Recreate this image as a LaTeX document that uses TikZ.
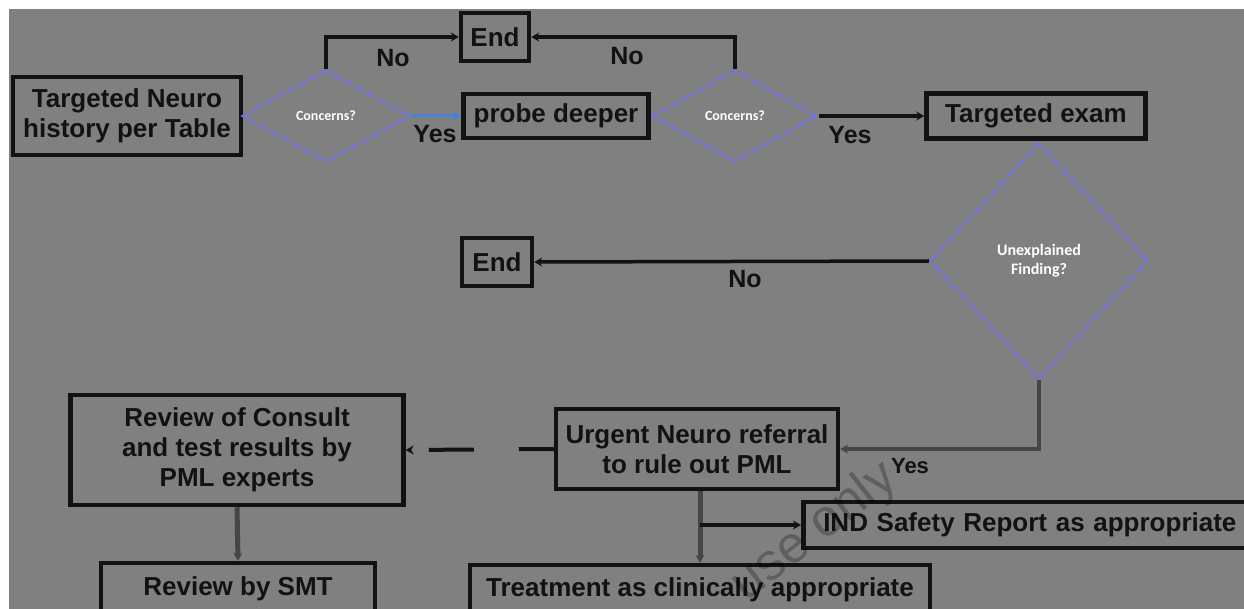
\documentclass[tikz,border=0pt]{standalone}
\usepackage{fontspec}
\setmainfont{Liberation Sans}
\newfontfamily\calfont{Carlito}
\usetikzlibrary{arrows.meta,shapes.geometric}

\definecolor{bggray}{RGB}{128,128,128}
\definecolor{ink}{RGB}{18,18,18}
\definecolor{dline}{RGB}{115,115,225}
\definecolor{yesblue}{RGB}{70,130,220}
\definecolor{stem}{RGB}{70,70,70}

\tikzset{
  box/.style={draw=ink, line width=4.5pt, fill=bggray, text=ink, align=center,
    inner sep=0pt, font=\fontsize{26}{30}\selectfont\bfseries},
  decision/.style={diamond, draw=dline, line width=2.2pt, dash pattern=on 10pt off 3pt,
    fill=bggray, inner sep=0pt, text=white, align=center,
    font=\calfont\bfseries\fontsize{14}{16}\selectfont},
  conn/.style={draw=ink, line width=4pt, -{Stealth[length=8pt,width=9pt]}},
  gconn/.style={conn, draw=stem, line width=5pt},
  lab/.style={text=ink, font=\fontsize{25}{28}\selectfont\bfseries, inner sep=0pt},
}

\begin{document}
\begin{tikzpicture}[x=1pt,y=-1pt]
  % page and grey backdrop
  \fill[white] (0,0) rectangle (1244,609);
  \useasboundingbox (0,0) rectangle (1244,609);
  \fill[bggray] (9,9) rectangle (1244,609);
  \clip (9,9) rectangle (1244,609);

  % top row
  \node[box, minimum width=228pt, minimum height=78pt] (hist) at (127,116)
    {Targeted Neuro\\history per Table};
  \node[decision, minimum width=168pt, minimum height=92pt] (d1) at (326,116) {Concerns?};
  \node[box, minimum width=68pt, minimum height=48pt] (end1) at (495,37) {End};
  \node[box, minimum width=185pt, minimum height=44pt] (probe) at (556,116) {probe deeper};
  \node[decision, minimum width=165pt, minimum height=92pt] (d2) at (735,116) {Concerns?};
  \node[box, minimum width=219pt, minimum height=45pt] (exam) at (1036,116) {Targeted exam};

  % middle
  \node[decision, minimum width=218pt, minimum height=236pt,
        font=\calfont\bfseries\fontsize{16}{19}\selectfont] (d3) at (1039,261)
    {Unexplained\\Finding?};
  \node[box, minimum width=70pt, minimum height=48pt] (end2) at (497,262) {End};

  % bottom part
  \node[box, minimum width=282pt, minimum height=80pt] (urgent) at (697,449)
    {Urgent Neuro referral\\to rule out PML};
  \node[box, minimum width=333pt, minimum height=110pt] (consult) at (237,450)
    {Review of Consult\\and test results by\\PML experts};
  \node[box, minimum width=274pt, minimum height=52pt] (smt) at (238,589) {Review by SMT};
  \node[box, anchor=west, minimum height=46pt, text width=440pt, align=left,
        inner xsep=20pt] (ind) at (801,525) {IND Safety Report as appropriate};
  \node[box, minimum width=460pt, minimum height=50pt] (treat) at (700,590)
    {Treatment as clinically appropriate};

  % connectors
  \draw[conn] (d1.north) |- (end1.west);
  \draw[conn, draw=yesblue, line width=3pt] (d1.east) -- (probe.west);
  \draw[conn] (d2.north) |- (end1.east);
  \draw[conn] (d2.east) -- (exam.west);
  \draw[conn, line width=3.5pt] (d3.west) -- (end2.east);
  \draw[conn, draw=stem, line width=4.5pt] (d3.south) |- (urgent.east);
  \draw[conn, dash pattern=on 35pt off 45pt on 45pt off 22pt] (urgent.west) -- (consult.east);
  \draw[gconn] (consult.south) -- (smt.north);
  \coordinate (split) at ([xshift=3pt]urgent.south);
  \draw[gconn] (split) -- (split |- treat.north);
  \coordinate (branch) at (split |- ind.west);
  \draw[conn] (branch) -- (ind.west);

  % branch labels
  \node[lab] (no1) at (393,58) {No};
  \node[lab] (yes1) at (435,134) {Yes};
  \node[lab] (no2) at (627,56) {No};
  \node[lab] (yes2) at (850,135) {Yes};
  \node[lab] (no3) at (745,279) {No};
  \node[lab, font=\fontsize{22}{24}\selectfont\bfseries] (yes3) at (910,466) {Yes};

  % faint diagonal watermark
  \node[text=black, opacity=0.25, rotate=38, font=\fontsize{52}{56}\selectfont] (wm)
    at (815,532) {use only};
\end{tikzpicture}
\end{document}
